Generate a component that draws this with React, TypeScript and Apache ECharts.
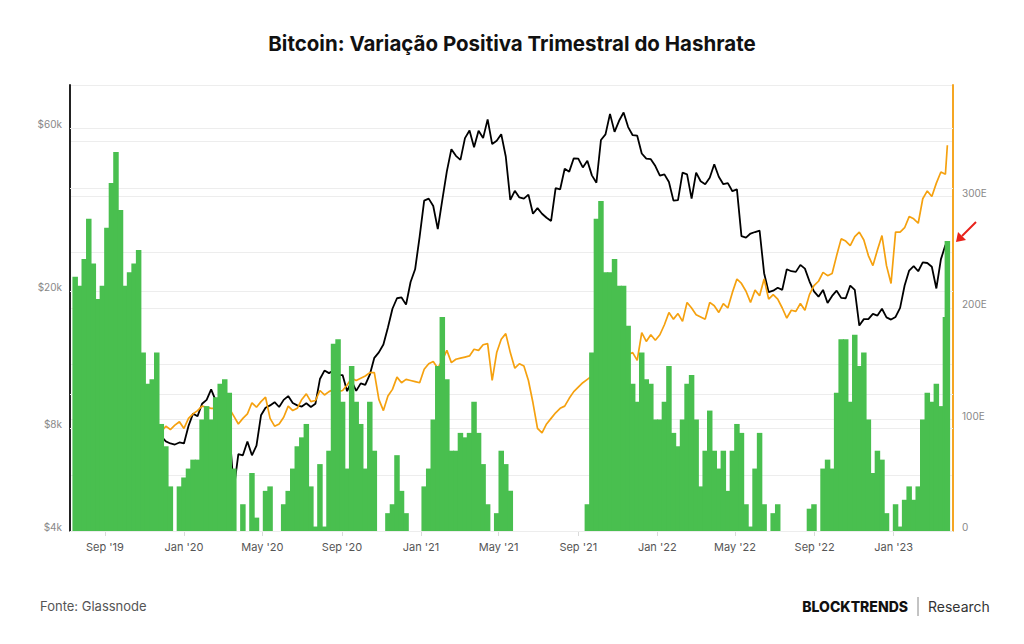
import React, { useEffect, useRef } from 'react';
import * as echarts from 'echarts';

const DAY = 86400000;
const FIRST_WEEK = Date.UTC(2019, 6, 17);
const LAST_DAY = Date.UTC(2023, 2, 25);
const X_MIN = Date.UTC(2019, 6, 9);
const X_MAX = Date.UTC(2023, 3, 2, 17);

// BTC price (USD), weekly samples from 2019-07-17, last point 2023-03-25
const PRICE_USD = [
  9700, 9800, 10100, 11900, 10100, 10100, 9600, 10600, 10150, 10150, 8450, 8300, 8600, 8000, 7450, 9150, 9350, 8750, 8100, 7550, 7300, 7200, 7150, 7250, 7200,
  8100, 8800, 8650, 9400, 9650, 10350, 9600, 8800, 8750, 7900, 5300, 6700, 6650, 7300, 6650, 7100, 8700, 9150, 9300, 9500, 9200, 9650, 9900, 9450, 9300,
  9230, 9430, 9200, 9400, 11100, 11750, 11550, 11750, 11400, 11400, 10230, 10950, 10250, 10780, 10670, 11430, 12800, 13280, 14000, 15700, 17800, 19100, 19200, 18300, 21300, 23200, 28900,
  36800, 37300, 35500, 30400, 37000, 44800, 52000, 49700, 48400, 56000, 58900, 52700, 58800, 56000, 63500, 53800, 55000, 57500, 49500, 37000, 39300, 37600, 37300, 38300,
  33700, 35000, 33700, 32800, 32100, 40000, 39700, 45600, 44700, 48900, 48800, 46000, 48100, 43600, 41500, 55300, 57400, 65900, 58400, 62900, 66500, 60300, 57100, 56900, 50500, 48800, 48600, 46400,
  43500, 43900, 41700, 36800, 36900, 44400, 43900, 37300, 44400, 41900, 41100, 42900, 47000, 43200, 41100, 41400, 39200, 39700, 29000, 28700, 29500, 29800, 30100, 22600, 19900, 20100, 20500, 20200,
  23200, 22900, 22800, 23900, 23300, 21400, 20000, 19300, 20200, 18500, 19400, 20100, 19150, 19100, 20800, 20200, 15900, 16600, 16600, 17200, 17000, 17800, 16800, 16550, 16850, 17900, 20800, 23000, 23700, 22900, 24300, 24200, 23600, 20400, 24800, 27300,
  27600,
];

// Hashrate (EH/s)
const HASHRATE_EH = [
  68, 70, 72, 75, 77, 78, 80, 84, 87, 90, 92, 90, 88, 93, 90, 94, 95, 90, 93, 89,
  94, 91, 95, 98, 92, 101, 105, 108, 112, 111, 110, 110, 112, 114, 110, 103, 96, 101, 105, 115, 111, 116, 120, 101, 94, 96, 102, 112,
  108, 110, 118, 123, 116, 117, 126, 122, 125, 127, 125, 126, 131, 137, 135, 137, 139, 142, 142, 118, 108, 121, 127, 138, 133, 136, 135, 134, 133,
  145, 150, 152, 146, 153, 162, 151, 154, 155, 156, 157, 163, 162, 167, 168, 135, 160, 172, 177, 160,
  146, 150, 148, 135, 115, 92, 88, 96, 101, 106, 110, 112, 119, 125, 129, 133, 136, 139, 142, 145, 148, 150, 152, 155, 157, 158, 160,
  153, 178, 170, 176, 171, 176, 185, 196, 190, 195, 188, 205, 200, 194, 192, 190, 205, 202, 196, 204, 200,
  214, 226, 222, 215, 205, 216, 211, 226, 208, 212, 208, 200, 191, 198, 197, 204, 198, 212, 220, 224, 232, 229, 231,
  247, 262, 260, 256, 264, 268, 261, 247, 238, 252, 265, 238, 222, 268, 268, 272, 282, 280, 276, 298, 305, 300, 312, 322, 320,
  346,
];

// Positive quarterly hashrate change (relative scale, 0-100)
const HASH_QUARTERLY_GAIN = [
  57, 55, 61, 70, 60, 52, 55, 68, 78, 85, 72, 55, 58, 60, 63, 40, 33, 34, 40, 24, 19, 10,
  0, 10, 12, 14, 16, 16, 25, 28, 25, 30, 33, 34, 31, 14, 0, 6, 0, 13, 3, 0, 9, 10, 0, 0, 6, 9,
  14, 19, 21, 24, 10, 1, 15, 1, 18, 42, 43, 29, 14, 37, 29, 24, 14, 29, 18, 0, 0, 4, 6, 17, 9, 4, 0, 0, 0,
  10, 14, 25, 37, 48, 34, 18, 18, 22, 21, 22, 29, 22, 15, 6, 0, 4, 18, 15, 9,
  0, 0, 0, 0, 0, 0, 0, 0, 0, 0, 0, 0, 0, 0, 0, 0,
  6, 40, 70, 74, 58, 58, 61, 55, 55, 46, 33, 29, 40, 34, 33, 25, 25, 29, 37, 22, 19, 25, 33, 35, 25, 10, 18, 27, 18, 14, 18, 9,
  18, 24, 22, 6, 1, 14, 22, 6, 0, 4, 6, 0, 0, 0, 0, 0,
  0, 5, 6, 0, 14, 16, 14, 31, 43, 43, 29, 44, 37, 40, 25, 13, 18, 16, 4, 0, 6, 1, 7, 10, 7, 10, 25, 31, 29, 33, 28, 48,
  65,
];

const X_TICKS = [
  Date.UTC(2019, 8, 1), Date.UTC(2020, 0, 1), Date.UTC(2020, 4, 1), Date.UTC(2020, 8, 1),
  Date.UTC(2021, 0, 1), Date.UTC(2021, 4, 1), Date.UTC(2021, 8, 1), Date.UTC(2022, 0, 1),
  Date.UTC(2022, 4, 1), Date.UTC(2022, 8, 1), Date.UTC(2023, 0, 1),
];
const MONTHS = ['Jan', 'Feb', 'Mar', 'Apr', 'May', 'Jun', 'Jul', 'Aug', 'Sep', 'Oct', 'Nov', 'Dec'];
const PRICE_GRID = [4000, 8000, 10000, 20000, 40000, 60000];
const PRICE_LABELS: Record<number, string> = { 4000: '$4k', 8000: '$8k', 20000: '$20k', 60000: '$60k' };

const FONT = 'Inter, "Noto Sans", sans-serif';

function dateAt(i: number): number {
  return i < PRICE_USD.length - 1 ? FIRST_WEEK + i * 7 * DAY : LAST_DAY;
}

export default function App() {
  const ref = useRef<HTMLDivElement>(null);

  useEffect(() => {
    if (!ref.current) return;
    const chart = echarts.init(ref.current, undefined, { renderer: 'svg' });
    const priceData = PRICE_USD.map((v, i) => [dateAt(i), v]);
    const hashData = HASHRATE_EH.map((v, i) => [dateAt(i), v]);
    const gainData = HASH_QUARTERLY_GAIN.map((v, i) => [dateAt(i), v]);

    chart.setOption({
      animation: false,
      textStyle: { fontFamily: FONT },
      title: {
        text: 'Bitcoin: Variação Positiva Trimestral do Hashrate',
        left: 'center',
        top: 28,
        textStyle: { fontSize: 20.5, fontWeight: 700, color: '#111', fontFamily: FONT },
      },
      grid: { left: 70, right: 71, top: 85, bottom: 113 },
      xAxis: {
        type: 'value',
        min: X_MIN,
        max: X_MAX,
        axisLine: { show: true, onZero: false, lineStyle: { color: '#e2e2e2', width: 1 } },
        axisTick: { show: true, customValues: X_TICKS, length: 5, lineStyle: { color: '#dadada' } },
        axisLabel: {
          customValues: X_TICKS,
          color: '#555',
          fontSize: 11,
          margin: 10,
          fontFamily: FONT,
          formatter: (v: number) => {
            const d = new Date(v);
            return MONTHS[d.getUTCMonth()] + " '" + String(d.getUTCFullYear()).slice(2);
          },
        },
        splitLine: { show: false },
      },
      yAxis: [
        {
          type: 'log',
          logBase: 10,
          min: 4000,
          max: 80000,
          position: 'left',
          axisLine: { show: true, lineStyle: { color: '#222', width: 2 } },
          axisTick: { show: false },
          axisLabel: { show: false },
          splitLine: { show: false },
        },
        {
          type: 'value',
          min: 0,
          max: 400,
          interval: 50,
          position: 'right',
          axisLine: { show: true, lineStyle: { color: '#f5a623', width: 2 } },
          axisTick: { show: false },
          axisLabel: {
            color: '#888',
            fontSize: 10,
            margin: 9,
            verticalAlign: 'bottom',
            lineHeight: 8,
            fontFamily: FONT,
            formatter: (v: number) => (v === 0 ? '0' : v % 100 === 0 && v < 400 ? v + 'E' : ''),
          },
          splitLine: { show: true, lineStyle: { color: '#ededed', width: 1 } },
        },
        { type: 'value', min: 0, max: 100, show: false },
      ],
      series: [
        {
          name: 'Preço BTC',
          type: 'line',
          yAxisIndex: 0,
          data: priceData,
          showSymbol: false,
          symbol: 'none',
          lineStyle: { color: '#000', width: 1.8 },
          z: 2,
          markLine: {
            silent: true,
            symbol: 'none',
            animation: false,
            z: 1,
            lineStyle: { color: '#ededed', width: 1, type: 'solid' },
            label: {
              show: true,
              position: 'start',
              distance: 8,
              color: '#888',
              fontSize: 10,
              fontFamily: FONT,
              verticalAlign: 'bottom',
              lineHeight: 8,
            },
            data: PRICE_GRID.map((v) => ({
              yAxis: v,
              label: PRICE_LABELS[v] ? { formatter: PRICE_LABELS[v] } : { show: false },
            })),
          },
        },
        {
          name: 'Hashrate',
          type: 'line',
          yAxisIndex: 1,
          data: hashData,
          showSymbol: false,
          symbol: 'none',
          lineStyle: { color: '#f5a10f', width: 1.7 },
          z: 3,
        },
        {
          name: 'Variação Positiva Trimestral',
          type: 'bar',
          yAxisIndex: 2,
          data: gainData,
          barWidth: 5.5,
          itemStyle: { color: '#49bf4f' },
          z: 4,
        },
      ],
      graphic: [
        {
          type: 'text',
          x: 40,
          y: 606,
          style: { text: 'Fonte: Glassnode', fill: '#555', font: `400 13px ${FONT}`, verticalAlign: 'middle' },
        },
        {
          type: 'text',
          x: 908,
          y: 606,
          style: { text: 'BLOCKTRENDS', fill: '#111', font: `800 14px ${FONT}`, align: 'right', verticalAlign: 'middle' },
        },
        {
          type: 'line',
          shape: { x1: 918, y1: 597, x2: 918, y2: 616 },
          style: { stroke: '#888', lineWidth: 1 },
        },
        {
          type: 'text',
          x: 928,
          y: 606,
          style: { text: 'Research', fill: '#333', font: `400 14px ${FONT}`, verticalAlign: 'middle' },
        },
        {
          type: 'line',
          shape: { x1: 976, y1: 222, x2: 962, y2: 236 },
          style: { stroke: '#e8221b', lineWidth: 2 },
        },
        {
          type: 'polygon',
          shape: { points: [[956, 242], [958, 232], [966, 240]] },
          style: { fill: '#e8221b' },
        },
      ],
    });

    return () => chart.dispose();
  }, []);

  return (
    <div
      ref={ref}
      style={{ position: 'absolute', left: 0, top: 0, width: 1024, height: 644, background: '#fff' }}
    />
  );
}
